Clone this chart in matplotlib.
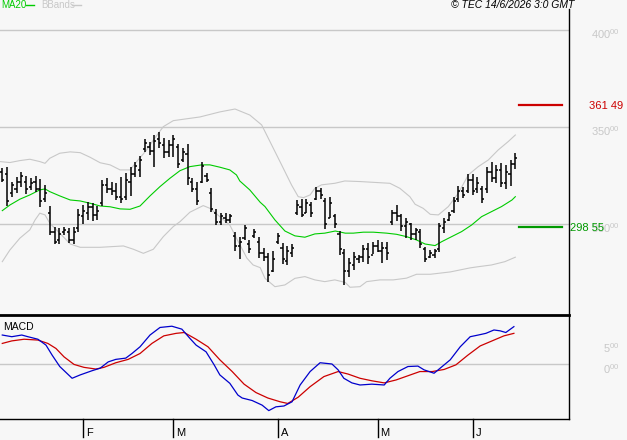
import numpy as np
import matplotlib
matplotlib.use("Agg")
import matplotlib.pyplot as plt
from matplotlib.lines import Line2D

plt.rcParams['font.family'] = ['Liberation Sans', 'DejaVu Sans']
plt.rcParams['mathtext.fontset'] = 'custom'
plt.rcParams['mathtext.rm'] = 'Liberation Sans'
plt.rcParams['mathtext.it'] = 'Liberation Sans:italic'

# ---- daily bars (one per trading day) ----
highs = [329.2, 329.7, 321.9, 324.4, 326.9, 324.9, 323.9, 324.9, 323.3, 320.3,
         309.4, 298.6, 298.1, 298.6, 298.1, 298.6, 307.9, 309.9, 311.5, 311.0,
         309.4, 322.8, 323.9, 321.8, 321.3, 324.4, 326.4, 329.5, 332.1, 335.2,
         343.9, 342.4, 346.0, 347.6, 344.5, 343.4, 346.0, 341.4, 339.3, 341.4,
         323.9, 321.8, 332.1, 326.4, 318.7, 307.9, 305.8, 305.8, 305.3, 296.0,
         293.4, 299.6, 291.9, 297.5, 293.4, 287.8, 285.2, 286.2, 295.5, 290.4,
         288.8, 289.8, 312.5, 313.0, 313.0, 311.5, 319.2, 318.7, 313.5, 314.0,
         305.3, 296.5, 287.3, 282.6, 285.7, 284.2, 289.3, 290.4, 290.9, 291.9,
         290.9, 290.9, 307.4, 309.9, 305.3, 303.2, 300.6, 298.1, 297.5, 288.3,
         286.7, 287.3, 300.6, 303.2, 306.3, 314.0, 319.7, 319.2, 325.9, 325.9,
         324.4, 319.7, 329.5, 332.1, 330.6, 331.6, 330.6, 333.1, 336.7]
lows = [322.0, 309.4, 314.2, 316.1, 319.2, 315.6, 317.7, 316.6, 308.9, 311.5,
        294.5, 289.8, 289.8, 294.5, 290.4, 289.8, 296.0, 300.1, 302.2, 301.7,
        302.2, 309.4, 316.1, 315.1, 312.5, 311.0, 312.5, 314.6, 324.4, 324.4,
        337.2, 335.7, 329.5, 339.3, 334.2, 334.7, 334.7, 329.0, 332.1, 320.2,
        316.6, 309.9, 321.3, 321.8, 306.3, 299.6, 299.6, 300.6, 300.6, 286.2,
        282.1, 291.9, 285.2, 292.9, 282.6, 281.1, 270.2, 275.4, 289.8, 279.5,
        279.0, 283.1, 304.8, 303.7, 305.8, 303.7, 312.5, 313.0, 297.5, 303.2,
        298.1, 284.2, 268.7, 272.8, 276.4, 280.0, 280.6, 279.5, 284.7, 285.7,
        280.0, 281.6, 299.6, 301.7, 296.5, 292.9, 291.9, 291.9, 287.8, 280.6,
        282.6, 282.6, 285.7, 295.5, 301.7, 305.8, 311.5, 313.5, 316.1, 315.1,
        316.1, 311.0, 316.1, 321.8, 321.3, 319.2, 318.2, 319.7, 328.5]
opens = [327, 326, 316, 318, 322, 322, 319, 322, 318, 313,
         306, 296, 292, 296, 296, 292, 298, 304, 306, 309,
         305, 311, 320, 318, 317, 314, 314, 322, 326, 328,
         339, 340, 338, 344, 341, 337, 341, 340, 333, 336,
         322, 318, 322, 325, 316, 306, 301, 303, 302, 294,
         289, 293, 290, 294, 291, 285, 283, 276, 291, 288,
         281, 285, 306, 309, 306, 310, 313, 317, 312, 303,
         304, 295, 285, 276, 279, 282, 283, 287, 284, 289,
         286, 288, 301, 306, 304, 299, 300, 295, 296, 287,
         283, 284, 287, 298, 302, 307, 313, 317, 317, 323,
         318, 318, 318, 327, 324, 328, 321, 326, 331]
closes = [323, 312, 320, 322, 325, 318, 321, 318, 312, 316,
          296, 291, 295, 297, 292, 296, 305, 307, 309, 305,
          307, 320, 318, 317, 314, 313, 323, 326, 330, 333,
          342, 338, 343, 342, 337, 341, 344, 331, 337, 324,
          318, 312, 330, 323, 308, 301, 304, 302, 304, 289,
          291, 298, 287, 296, 285, 283, 274, 282, 294, 282,
          286, 288, 310, 305, 311, 306, 317, 315, 300, 311,
          300, 287, 276, 280, 283, 283, 287, 283, 289, 286,
          288, 285, 306, 304, 299, 301, 295, 297, 290, 282,
          285, 286, 299, 301, 305, 312, 317, 315, 323, 317,
          321, 313, 327, 324, 328, 321, 327, 331, 334]

# ---- MA20 and Bollinger bands (sampled along the bar index) ----
ma_idx = [0, 1.6, 3.7, 5.8, 7.9, 9.0, 10.0, 12.1, 14.3, 16.4, 18.5, 20.6, 22.7, 24.8,
          26.9, 29.0, 31.1, 33.2, 35.3, 37.4, 39.5, 42.0, 43.7, 45.8, 47.9, 49.3,
          50.0, 52.1, 54.3, 55.3, 57.4, 59.5, 61.6, 63.7, 65.8, 67.9, 70.1, 72.2,
          73.9, 76.0, 78.1, 80.9, 83.0, 85.1, 87.2, 89.0, 91.1, 92.5, 94.6, 96.7,
          98.8, 100.9, 103.0, 105.1, 107.3, 108.0]
ma20 = [307.0, 309.9, 312.9, 315.1, 317.7, 318.2, 316.8, 314.6, 312.5, 312.0, 310.8,
        309.4, 309.0, 307.9, 307.7, 309.4, 314.6, 319.4, 323.7, 327.6, 329.7, 330.6,
        330.6, 329.4, 328.0, 325.4, 322.3, 317.7, 311.3, 309.1, 302.2, 296.5, 294.0,
        293.3, 295.0, 295.4, 296.5, 295.4, 295.4, 295.9, 295.9, 295.4, 294.8, 293.6,
        291.9, 289.8, 289.0, 291.0, 293.6, 296.2, 299.6, 303.9, 306.5, 309.1, 312.5,
        314.2]

up_idx = [-0.5, 1.6, 3.7, 5.8, 7.9, 9.0, 10.0, 12.1, 14.3, 16.4, 18.5, 20.6, 22.7,
          24.8, 26.9, 28.3, 30.4, 31.8, 33.9, 36.0, 41.6, 45.8, 49.0, 52.1, 54.6,
          56.7, 58.8, 60.9, 62.3, 63.4, 64.8, 65.8, 67.2, 70.0, 72.1, 75.3, 78.1,
          81.6, 83.7, 85.8, 86.9, 88.6, 90.1, 91.8, 93.9, 96.0, 98.1, 100.2, 102.3,
          104.4, 106.5, 108.0]
bb_upper = [332.3, 331.8, 332.8, 333.5, 332.3, 331.4, 334.0, 336.6, 337.3, 336.9,
            334.5, 331.7, 330.6, 328.0, 328.0, 332.3, 338.3, 343.4, 350.3, 353.4,
            355.3, 357.9, 359.4, 356.3, 351.2, 340.9, 330.6, 320.2, 314.2, 313.7,
            315.1, 318.5, 320.3, 321.1, 322.3, 322.0, 321.6, 321.1, 318.5, 314.2,
            310.3, 308.2, 305.1, 304.8, 309.1, 316.0, 325.4, 329.7, 333.1, 338.3,
            342.6, 346.0]

lo_idx = [0, 1.6, 3.7, 5.8, 6.9, 7.9, 9.0, 10.0, 12.1, 14.3, 16.4, 20.6, 25.5, 27.6,
          29.7, 31.8, 33.9, 36.0, 37.4, 39.5, 42.3, 43.7, 45.8, 47.9, 49.3, 51.5,
          52.8, 54.3, 55.3, 57.4, 59.5, 61.6, 63.7, 65.8, 67.9, 70.0, 72.2, 73.2,
          75.3, 76.7, 79.5, 82.3, 85.1, 87.2, 90.1, 94.3, 98.5, 100.2, 103.0, 105.8,
          108.0]
bb_lower = [280.7, 286.7, 292.8, 297.1, 302.2, 305.7, 304.8, 300.5, 295.4, 289.8,
            288.1, 288.1, 288.8, 287.1, 285.0, 287.1, 293.6, 298.8, 301.3, 306.2,
            309.6, 308.2, 303.9, 299.6, 292.8, 282.5, 279.0, 277.6, 272.1, 267.8,
            268.7, 272.1, 273.0, 271.3, 270.4, 271.3, 270.0, 267.5, 267.8, 270.4,
            271.3, 271.3, 272.2, 274.2, 274.2, 275.4, 277.5, 278.1, 279.0, 280.7,
            283.0]

# ---- MACD ----
macd_idx = [0, 2.0, 4.1, 5.4, 7.5, 9.2, 10.5, 12.1, 14.7, 16.4, 18.9, 20.6, 22.3,
            23.9, 26.0, 27.3, 29.0, 31.1, 33.2, 35.7, 37.8, 39.5, 40.8, 42.9, 44.6,
            45.8, 47.9, 49.6, 50.5, 52.6, 54.7, 56.1, 57.6, 59.3, 61.0, 62.7, 64.8,
            66.9, 69.4, 70.7, 71.9, 73.6, 75.3, 77.8, 80.4, 81.6, 83.3, 85.4, 87.5,
            88.8, 90.9, 92.6, 94.3, 96.4, 98.5, 100.2, 101.8, 103.5, 104.8, 106.0,
            107.7]
macd = [6.9, 6.5, 6.9, 6.5, 5.9, 4.5, 2.1, -0.6, -3.4, -2.6, -1.6, -1.0, 0.5, 1.1,
        1.4, 2.5, 4.1, 6.9, 8.7, 9.0, 8.3, 6.1, 4.5, 2.9, -0.2, -2.6, -4.6, -7.4,
        -8.1, -8.7, -9.8, -11.1, -10.2, -10.0, -9.0, -5.0, -1.8, 0.3, 0.0, -1.4,
        -3.4, -4.5, -5.0, -4.8, -5.0, -3.4, -1.8, -0.6, -0.5, -1.4, -2.2, -0.6, 1.0,
        4.1, 6.5, 6.9, 7.3, 8.1, 7.9, 7.5, 8.9]
sig_idx = [0, 2.0, 4.6, 7.5, 9.6, 11.3, 13.0, 15.1, 17.2, 19.7, 21.4, 23.9, 26.5,
           29.0, 31.5, 34.0, 36.6, 38.3, 40.8, 43.3, 45.8, 48.4, 50.9, 53.4, 55.9,
           58.5, 60.1, 62.3, 64.8, 67.7, 70.7, 72.8, 75.3, 77.8, 80.4, 82.9, 85.4,
           87.9, 90.5, 93.0, 95.5, 98.0, 100.6, 103.1, 105.6, 107.7]
signal = [4.9, 5.5, 5.9, 5.7, 4.9, 3.7, 1.7, -0.1, -0.8, -1.2, -0.8, 0.3, 1.1, 2.5,
          4.9, 6.7, 7.3, 7.5, 5.9, 4.1, 1.0, -1.8, -4.8, -6.8, -8.1, -9.0, -9.4,
          -7.9, -5.4, -3.0, -1.8, -2.4, -3.4, -4.0, -4.5, -3.8, -2.8, -1.8, -1.8,
          -1.3, -0.2, 2.1, 4.3, 5.5, 6.7, 7.3]

price_ticks = [300, 350, 400]
macd_ticks = [0, 5]
month_pos = [17, 36, 58, 79, 99]
month_labels = ['F', 'M', 'A', 'M', 'J']
resistance = 361.49
support = 298.55

W, H = 627, 440
bg = '#f7f7f7'
grid_c = '#c8c8c8'

fig = plt.figure(figsize=(W / 100, H / 100), dpi=100, facecolor=bg)
ax1 = fig.add_axes([0, 1 - 315 / H, 569 / W, 315 / H], facecolor=bg)
ax2 = fig.add_axes([0, 1 - 419 / H, 569 / W, 104 / H], facecolor=bg)

xl = (-0.48, 119.3)
for ax in (ax1, ax2):
    ax.set_xlim(*xl)
    ax.set_xticks([])
    ax.set_yticks([])
    for s in ax.spines.values():
        s.set_visible(False)
ax1.set_ylim(253.2, 415.6)
ax2.set_ylim(-13.1, 11.67)

# price panel
for t in price_ticks:
    ax1.axhline(t, color=grid_c, lw=1.0, zorder=0)
    ax1.annotate(str(t) + '$^{00}$', xy=(620 / W, t), xycoords=('figure fraction', 'data'),
                 xytext=(0, -4), textcoords='offset pixels', ha='right', va='center',
                 color=grid_c, fontsize=8, annotation_clip=False)

idx = np.arange(len(highs))
ax1.plot(up_idx, bb_upper, color='#c8c8c8', lw=0.8, zorder=1)
ax1.plot(lo_idx, bb_lower, color='#c8c8c8', lw=0.8, zorder=1)
ax1.plot(ma_idx, ma20, color='#00cc00', lw=0.8, zorder=2)
ax1.vlines(idx, lows, highs, color='black', lw=1.1, zorder=3)
ax1.hlines(opens, idx - 0.45, idx, color='black', lw=1.1, zorder=3)
ax1.hlines(closes, idx, idx + 0.45, color='black', lw=1.1, zorder=3)

ax1.axhline(resistance, xmin=519 / 569, xmax=562 / 569, color='#cc0000', lw=1.6)
ax1.axhline(support, xmin=519 / 569, xmax=562 / 569, color='#009900', lw=1.6)
ax1.annotate('361 49', xy=(623 / W, resistance), xycoords=('figure fraction', 'data'),
             xytext=(0, -1), textcoords='offset pixels', ha='right', va='center',
             color='#cc0000', fontsize=8, annotation_clip=False)
ax1.annotate('298 55', xy=(570 / W, support), xycoords=('figure fraction', 'data'),
             xytext=(0, -1), textcoords='offset pixels', ha='left', va='center',
             color='#009900', fontsize=8, annotation_clip=False)

# MACD panel
ax2.axhline(0, color=grid_c, lw=1.0, zorder=0)
for t in macd_ticks:
    ax2.annotate(str(t) + '$^{00}$', xy=(620 / W, t), xycoords=('figure fraction', 'data'),
                 xytext=(0, -5), textcoords='offset pixels', ha='right', va='center',
                 color=grid_c, fontsize=8, annotation_clip=False)
ax2.plot(sig_idx, signal, color='#cc0000', lw=0.9)
ax2.plot(macd_idx, macd, color='#0000cc', lw=0.9)
ax2.text(3 / 569, 1 - 12 / 104, 'MACD', transform=ax2.transAxes, fontsize=7.5,
         ha='left', va='center', color='black')

# frame lines
def px(x):
    return x / W

def py(y):
    return 1 - y / H

fig.add_artist(Line2D([px(0), px(569)], [py(315), py(315)], color='black', lw=2.0))
fig.add_artist(Line2D([px(0), px(569)], [py(419), py(419)], color='black', lw=1.0))
fig.add_artist(Line2D([px(569), px(569)], [py(9), py(419)], color='black', lw=1.0))

# month ticks below MACD
for p, lab in zip(month_pos, month_labels):
    ax2.annotate('', xy=(p, 0), xycoords=('data', 'figure fraction'))
    xf = ax2.transData.transform((p, 0))[0] / W
    fig.add_artist(Line2D([xf, xf], [py(419), py(437)], color='black', lw=1.0))
    fig.text(xf + 3 / W, py(433), lab, fontsize=8, ha='left', va='center', color='black')

# header
fig.text(px(1), py(5), 'MA20', color='#00cc00', fontsize=7, ha='left', va='center')
fig.add_artist(Line2D([px(26), px(34)], [py(5), py(5)], color='#00cc00', lw=1.0))
fig.text(px(41), py(5), 'BBands', color='#c8c8c8', fontsize=7, ha='left', va='center')
fig.add_artist(Line2D([px(72), px(81)], [py(5), py(5)], color='#c8c8c8', lw=1.0))
fig.text(px(574), py(5), '\u00a9 TEC 14/6/2026 3:0 GMT', fontsize=7.5, style='italic',
         ha='right', va='center', color='black')

fig.savefig('out.png', dpi=100, facecolor=bg)
